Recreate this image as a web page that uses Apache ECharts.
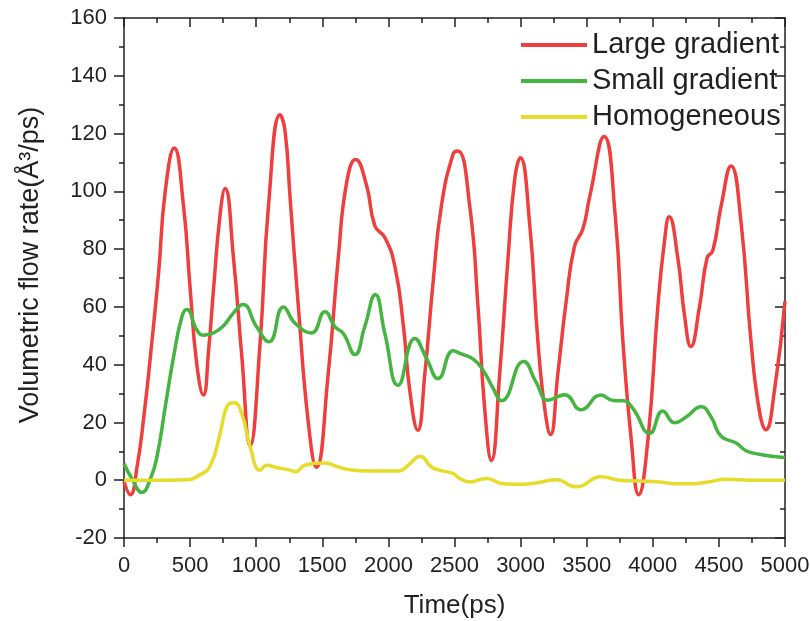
<!DOCTYPE html>
<html>
<head>
<meta charset="utf-8">
<title>Volumetric flow rate</title>
<script src="https://cdn.jsdelivr.net/npm/echarts@6/dist/echarts.min.js"></script>
<style>
  html, body { margin: 0; padding: 0; background: #fff; }
  #chart { width: 810px; height: 621px; }
</style>
</head>
<body>
<div id="chart"></div>
<script>
// values (time in ps, flow rate in Å³/ps)
const largeT = [0, 48, 100, 150, 200, 262, 312, 380, 450, 501, 551, 601, 640, 677, 727, 765, 828, 891, 954, 1030,
  1093, 1181, 1218, 1256, 1319, 1394, 1455, 1545, 1621, 1684, 1752, 1835, 1898, 1973, 2049, 2112, 2162, 2222, 2276, 2339,
  2401, 2490, 2525, 2615, 2678, 2728, 2779, 2842, 2905, 2955, 2998, 3068, 3131, 3182, 3226, 3282, 3345, 3408, 3471, 3522,
  3632, 3715, 3774, 3837, 3893, 3963, 4038, 4089, 4124, 4189, 4240, 4288, 4353, 4411, 4454, 4517, 4592, 4668, 4743, 4806,
  4855, 4920, 5000]
const largeV = [-0.5, -5, 5, 22, 43, 72, 100, 115, 95, 66, 40, 29.5, 45, 66, 92, 101, 77, 43, 12, 48,
  95, 126.5, 121, 98, 60, 20, 4.5, 37, 77, 103, 111, 102, 88, 84, 74, 54, 31, 17.3, 37, 69,
  95, 113, 114, 95, 60, 25, 6.8, 37, 77, 104, 111.6, 89, 48, 25, 15.8, 37, 62, 81, 87, 98,
  119, 92, 48, 14, -5, 14, 60, 83, 91.2, 77, 57, 46.3, 60, 77, 79.5, 95, 108.8, 89, 48, 24,
  17.5, 31, 62]

const smallT = [0, 60, 136, 200, 249, 312, 375, 438, 476, 551, 601, 677, 753, 830, 899, 1004, 1097, 1206, 1294, 1419,
  1520, 1596, 1659, 1747, 1820, 1901, 1973, 2074, 2200, 2290, 2376, 2490, 2552, 2640, 2716, 2790, 2856, 3023, 3119, 3207,
  3333, 3458, 3608, 3698, 3774, 3850, 3976, 4076, 4164, 4252, 4366, 4441, 4517, 4630, 4706, 4806, 4900, 5000]
const smallV = [5.8, 0.5, -4.2, 0.5, 8, 25.4, 42.7, 56.6, 59.1, 52, 50.2, 51, 53.5, 58, 60.8, 53, 47.9, 60, 54.3, 51,
  58.3, 53.1, 50.8, 43.5, 53, 64.2, 50.8, 32.9, 49.1, 42, 35.2, 44.8, 43.7, 42, 38.1, 32, 27.5, 41.1, 33.8, 27.7,
  29.6, 24.4, 29.5, 27.6, 27.5, 24.8, 16.2, 24, 19.9, 21.9, 25.4, 21.9, 15.2, 12.9, 10.2, 9.0, 8.3, 7.9]

const homoT = [0, 200, 476, 560, 652, 727, 778, 833, 891, 954, 1030, 1080, 1160, 1256, 1294, 1369, 1520, 1621, 1722, 1847,
  2074, 2150, 2240, 2326, 2400, 2490, 2540, 2615, 2741, 2867, 3018, 3150, 3270, 3421, 3610, 3748, 3900, 4050, 4177, 4303,
  4430, 4555, 4750, 5000]
const homoV = [0, 0, 0.2, 1.5, 5, 16.2, 25.4, 26.8, 23.1, 11.6, 3.5, 5.2, 4.3, 3.5, 2.9, 5.2, 6, 4.6, 3.5, 3.2,
  3.2, 5.2, 8.3, 4.6, 3.3, 2.3, 0.6, -0.6, 0.6, -1.2, -1.4, -0.7, 0.2, -2.3, 1.2, 0, -0.3, -0.6, -1.2, -1.2,
  -0.5, 0.3, 0, 0]

const seriesNames = ['Large gradient', 'Small gradient', 'Homogeneous']
const seriesColors = ['#ef3e3e', '#46b440', '#e6dc2a']

const FONT = 'Liberation Sans, Arial, sans-serif'
const INK = '#231f20'

function pairs(t, v) {
  return t.map(function(x, i) {
    return [x, v[i]]
  })
}

const chart = echarts.init(document.getElementById('chart'))

const axisLine = { show: true, onZero: false, lineStyle: { color: INK, width: 1.5 } }

function xAxisOpt(pos, withLabels) {
  return {
    type: 'value',
    position: pos,
    min: 0,
    max: 5000,
    interval: 500,
    axisLine: axisLine,
    axisTick: { show: true, inside: !withLabels, length: 9, lineStyle: { color: INK, width: 1.5 } },
    minorTick: { show: true, splitNumber: 2, length: 5, lineStyle: { color: INK, width: 1.5 } },
    axisLabel: {
      show: withLabels, margin: 17, fontSize: 22, fontFamily: FONT, color: INK,
      formatter: function(v) { return String(v) }
    },
    splitLine: { show: false },
    name: withLabels ? 'Time(ps)' : '',
    nameLocation: 'middle',
    nameGap: 55,
    nameTextStyle: { fontSize: 26, fontFamily: FONT, color: INK }
  }
}

function yAxisOpt(pos, withLabels) {
  return {
    type: 'value',
    position: pos,
    min: -20,
    max: 160,
    interval: 20,
    axisLine: axisLine,
    axisTick: { show: true, inside: !withLabels, length: 10, lineStyle: { color: INK, width: 1.5 } },
    minorTick: { show: true, splitNumber: 2, length: 5, lineStyle: { color: INK, width: 1.5 } },
    axisLabel: {
      show: withLabels, margin: 17, fontSize: 22, fontFamily: FONT, color: INK,
      formatter: function(v) { return String(v) }
    },
    splitLine: { show: false },
    name: withLabels ? 'Volumetric flow rate(Å³/ps)' : '',
    nameLocation: 'middle',
    nameGap: 80,
    nameTextStyle: { fontSize: 27, fontFamily: FONT, color: INK, padding: [0, 0, 0, 26] }
  }
}

chart.setOption({
  animation: false,
  backgroundColor: '#fff',
  grid: { left: 124, right: 25, top: 18, bottom: 83, containLabel: false, outerBoundsMode: 'none' },
  legend: {
    orient: 'vertical',
    left: 516,
    top: 25,
    icon: 'rect',
    itemWidth: 66,
    itemHeight: 4,
    itemGap: 6,
    data: seriesNames,
    textStyle: { fontSize: 29, lineHeight: 30, fontFamily: FONT, color: INK }
  },
  xAxis: [xAxisOpt('bottom', true), xAxisOpt('top', false)],
  yAxis: [yAxisOpt('left', true), yAxisOpt('right', false)],
  series: [
    { data: pairs(largeT, largeV) },
    { data: pairs(smallT, smallV) },
    { data: pairs(homoT, homoV) }
  ].map(function(s, i) {
    return {
      name: seriesNames[i],
      type: 'line',
      xAxisIndex: 0,
      yAxisIndex: 0,
      smooth: 0.5,
      symbol: 'none',
      data: s.data,
      itemStyle: { color: seriesColors[i] },
      lineStyle: { color: seriesColors[i], width: 3.5 }
    }
  })
})
</script>
</body>
</html>
